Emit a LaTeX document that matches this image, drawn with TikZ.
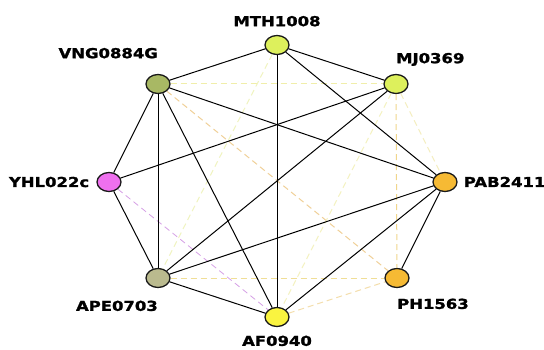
\documentclass[tikz,border=0pt]{standalone}
\usepackage{fontspec}
\newfontfamily\tagfont[FakeStretch=1.2,FakeBold=1.5]{DejaVu Sans}
\usetikzlibrary{positioning, shapes.geometric}

\definecolor{lime}{RGB}{221,240,92}
\definecolor{olive}{RGB}{168,184,100}
\definecolor{sage}{RGB}{186,186,142}
\definecolor{orchid}{RGB}{238,112,238}
\definecolor{amber}{RGB}{246,186,52}
\definecolor{lemon}{RGB}{250,244,64}

\begin{document}
\begin{tikzpicture}[x=1pt, y=-1pt,
  prot/.style={ellipse, draw=black!90, line width=1.3pt, minimum width=24pt, minimum height=19pt, inner sep=0pt},
  tag/.style={font=\tagfont\bfseries\fontsize{13.7}{14}\selectfont, inner sep=0pt, text height=10pt, text depth=0pt},
  link/.style={draw=black, line width=1pt},
  hint/.style={dash pattern=on 6pt off 4pt, line width=1pt}]
  \fill[white] (0,0) rectangle (544,350);
  \useasboundingbox (0,0) rectangle (544,350);

  % proteins
  \node[prot, fill=lime] (mth) at (277,45) {};
  \node[prot, fill=lime] (mj) at (396,84) {};
  \node[prot, fill=olive] (vng) at (158,84) {};
  \node[prot, fill=orchid] (yhl) at (109,182) {};
  \node[prot, fill=amber] (pab) at (445,182) {};
  \node[prot, fill=amber] (ph) at (397,278) {};
  \node[prot, fill=sage] (ape) at (158,278) {};
  \node[prot, fill=lemon] (af) at (277,317) {};

  % names
  \node[tag, above=8.5pt of mth] (mthtag) {MTH1008};
  \node[tag, anchor=south west] (mjtag) at ([yshift=10.5pt]mj.north) {MJ0369};
  \node[tag, anchor=south east] (vngtag) at ([yshift=15.5pt]vng.north) {VNG0884G};
  \node[tag, left=7pt of yhl] (yhltag) {YHL022c};
  \node[tag, right=6pt of pab] (pabtag) {PAB2411};
  \node[tag, anchor=north west] (phtag) at ([yshift=-10.5pt]ph.south) {PH1563};
  \node[tag, anchor=north east] (apetag) at ([yshift=-12.5pt]ape.south) {APE0703};
  \node[tag, below=8.5pt of af] (aftag) {AF0940};

  % weak (predicted) links
  \draw[hint, draw={rgb,255:red,240;green,238;blue,170}] (vng) -- (mj);
  \draw[hint, draw={rgb,255:red,240;green,222;blue,150}] (ape) -- (ph);
  \draw[hint, draw={rgb,255:red,240;green,214;blue,140}] (mj) -- (ph);
  \draw[hint, draw={rgb,255:red,240;green,208;blue,152}] (vng) -- (ph);
  \draw[hint, draw={rgb,255:red,244;green,222;blue,172}] (af) -- (ph);
  \draw[hint, draw={rgb,255:red,240;green,244;blue,192}] (mth) -- (ape);
  \draw[hint, draw={rgb,255:red,244;green,242;blue,192}] (mj) -- (af);
  \draw[hint, draw={rgb,255:red,244;green,238;blue,192}] (mj) -- (pab);
  \draw[hint, line width=0.8pt, draw={rgb,255:red,214;green,160;blue,230}] (yhl) -- (af);

  % confirmed links
  \draw[link] (mth) -- (vng);
  \draw[link] (mth) -- (mj);
  \draw[link] (mth) -- (af);
  \draw[link] (mth) -- (pab);
  \draw[link] (vng) -- (pab);
  \draw[link] (vng) -- (yhl);
  \draw[link] (vng) -- (ape);
  \draw[link] (vng) -- (af);
  \draw[link] (mj) -- (yhl);
  \draw[link] (mj) -- (ape);
  \draw[link] (pab) -- (ape);
  \draw[link] (pab) -- (af);
  \draw[link] (pab) -- (ph);
  \draw[link] (yhl) -- (ape);
  \draw[link] (ape) -- (af);
\end{tikzpicture}
\end{document}
